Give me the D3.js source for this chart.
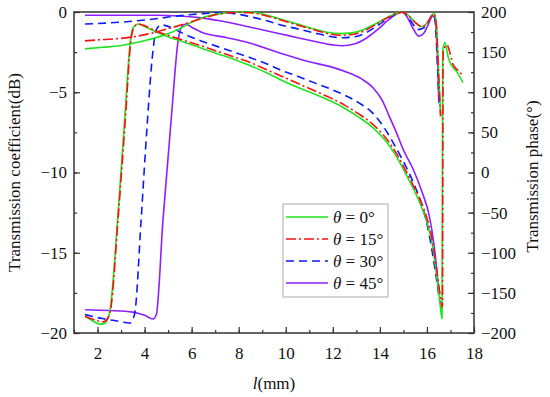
<!DOCTYPE html>
<html>
<head>
<meta charset="utf-8">
<script src="https://cdn.jsdelivr.net/npm/d3@7"></script>
<style>
body { margin: 0; background: #fff; }
text { font-family: "Liberation Serif", "Times New Roman", serif; }
</style>
</head>
<body>
<div id="chart"></div>
<script>
// magnitude curves (dB, left axis)
let mag0 = [[1.47,-2.3],[2.2,-2.2],[2.95,-2.1],[3.5,-1.95],[4.1,-1.75],[4.6,-1.55],[5.1,-1.3],[5.6,-0.95],[6.2,-0.5],[6.7,-0.25],[7.2,-0.1],[7.8,-0.02],[8.5,0],[9.2,-0.2],[9.9,-0.5],[10.6,-0.8],[11.3,-1.1],[11.8,-1.28],[12.3,-1.35],[12.8,-1.3],[13.3,-1.1],[13.8,-0.75],[14.3,-0.35],[14.7,-0.08],[14.95,0],[15.2,-0.2],[15.5,-0.65],[15.8,-0.9],[16.0,-0.7],[16.2,-0.25],[16.3,-0.1],[16.4,-0.8],[16.5,-4],[16.58,-6.5]];
let mag15 = [[1.47,-1.8],[2.2,-1.72],[2.95,-1.65],[3.7,-1.5],[4.36,-1.3],[5.1,-1.0],[5.8,-0.7],[6.5,-0.38],[7.2,-0.12],[7.8,-0.03],[8.5,-0.05],[9.2,-0.25],[9.9,-0.55],[10.6,-0.85],[11.3,-1.15],[11.8,-1.35],[12.3,-1.45],[12.8,-1.4],[13.3,-1.2],[13.8,-0.8],[14.3,-0.38],[14.7,-0.1],[14.95,-0.02],[15.2,-0.2],[15.5,-0.65],[15.8,-0.92],[16.0,-0.7],[16.2,-0.25],[16.3,-0.1],[16.4,-0.8],[16.5,-4],[16.58,-6.5]];
let mag30 = [[1.47,-0.75],[2.5,-0.68],[3.68,-0.55],[4.5,-0.42],[5.2,-0.28],[5.8,-0.19],[6.5,-0.1],[7.2,-0.05],[7.8,-0.1],[8.5,-0.3],[9.2,-0.55],[9.75,-0.8],[10.5,-1.05],[11.2,-1.3],[11.8,-1.5],[12.4,-1.6],[12.9,-1.55],[13.4,-1.3],[13.9,-0.85],[14.4,-0.35],[14.8,-0.05],[14.95,0],[15.2,-0.3],[15.4,-0.75],[15.6,-1.1],[15.85,-1.0],[16.05,-0.6],[16.26,-0.15],[16.35,-0.6],[16.45,-3.5],[16.52,-5.9]];
let mag45 = [[1.47,-0.2],[3,-0.2],[4.5,-0.2],[5.5,-0.25],[6.3,-0.35],[7.2,-0.55],[8.5,-0.95],[9.75,-1.35],[10.5,-1.6],[11.3,-1.85],[12,-2.05],[12.4,-2.1],[12.9,-2.0],[13.4,-1.65],[13.9,-1.1],[14.4,-0.45],[14.75,-0.1],[14.95,-0.02],[15.15,-0.3],[15.4,-1.0],[15.65,-1.5],[15.85,-1.35],[16.05,-0.8],[16.25,-0.25],[16.35,-0.4],[16.45,-3],[16.5,-5.3]];

// phase curves (deg, right axis)
let ph0 = [[1.47,-179],[1.8,-185],[2.1,-189],[2.3,-188],[2.42,-183],[2.53,-172],[2.85,-60],[3.15,65],[3.4,165],[3.52,181],[3.72,185],[4.0,182],[4.5,175],[5.1,168],[5.63,163],[6.5,154],[7.1,148],[7.9,140],[8.5,133],[9.2,124],[9.75,116],[10.6,105],[11.3,97],[11.9,89],[12.5,80],[13.1,69],[13.7,56],[14.2,41],[14.7,20],[15.0,4],[15.4,-19],[15.7,-38],[16.0,-62],[16.2,-85],[16.4,-125],[16.55,-162],[16.64,-182],[16.67,150],[16.76,162],[16.83,155],[16.9,144],[16.98,137],[17.28,125],[17.53,112]];
let ph15 = [[1.47,-179],[1.8,-183],[2.25,-186],[2.45,-181],[2.56,-170],[2.88,-55],[3.18,65],[3.42,165],[3.55,181],[3.72,185],[4.0,183],[4.5,176],[5.1,170],[5.63,165],[6.5,157],[7.1,151],[7.9,143],[8.5,137],[9.2,128],[9.75,121],[10.6,110],[11.3,101],[11.9,93],[12.5,84],[13.1,73],[13.7,60],[14.2,45],[14.7,24],[15.0,8],[15.4,-15],[15.7,-33],[16.0,-57],[16.2,-80],[16.4,-118],[16.55,-150],[16.66,-168],[16.69,150],[16.85,159],[16.98,149],[17.1,135],[17.33,127],[17.53,121]];
let ph30 = [[1.47,-177],[2.2,-182],[2.83,-185],[3.38,-187.5],[3.52,-182],[3.6,-172],[3.85,-60],[4.1,55],[4.35,150],[4.5,178],[4.7,184],[4.9,183],[5.3,178],[5.8,171],[6.4,164],[7.2,156],[7.9,149],[8.5,143],[9.3,134],[9.75,128],[10.5,120],[11.2,112],[11.9,104],[12.6,95],[13.2,85],[13.7,74],[14.2,55],[14.7,30],[15.15,5],[15.5,-18],[15.8,-42],[16.1,-78],[16.35,-122],[16.55,-162]];
let ph45 = [[1.47,-171],[2.5,-172],[3.5,-174],[4.0,-178],[4.36,-182.5],[4.5,-177],[4.78,-60],[5.16,77],[5.42,163],[5.58,182],[5.75,185],[6.0,181],[6.4,175],[7.5,168],[8.5,161],[9.75,149],[11,138],[12,131],[12.6,125],[13.2,117],[13.7,106],[14.1,90],[14.4,70],[14.7,50],[15.0,28],[15.4,5],[15.8,-25],[16.1,-54],[16.3,-90],[16.4,-116],[16.5,-150]];

let legendLabels = ["0", "15", "30", "45"];
let xTicks = [2,4,6,8,10,12,14,16,18];
let dbTicks = [0,-5,-10,-15,-20];
let phTicks = [200,150,100,50,0,-50,-100,-150,-200];

let w = 550, h = 397;
let mLeft = 74, mRight = 474, mTop = 12, mBottom = 333;

let svg = d3.select("#chart").append("svg")
  .attr("width", w)
  .attr("height", h);

let xScale = d3.scaleLinear().domain([1, 18]).range([mLeft, mRight]);
let yDb = d3.scaleLinear().domain([-20, 0]).range([mBottom, mTop]);
let yPh = d3.scaleLinear().domain([-200, 200]).range([mBottom, mTop]);

let axisColor = "#333";

// minor ticks
svg.append("g")
  .attr("transform", "translate(0," + mBottom + ")")
  .call(d3.axisBottom(xScale).tickValues(d3.range(1, 19, 1)).tickFormat("").tickSizeInner(-3).tickSizeOuter(0));
svg.append("g")
  .attr("transform", "translate(" + mLeft + ",0)")
  .call(d3.axisLeft(yDb).tickValues(d3.range(-20, 0.1, 2.5)).tickFormat("").tickSizeInner(-3).tickSizeOuter(0));
svg.append("g")
  .attr("transform", "translate(" + mRight + ",0)")
  .call(d3.axisRight(yPh).tickValues(d3.range(-200, 201, 25)).tickFormat("").tickSizeInner(-3).tickSizeOuter(0));

// major ticks
let xAxis = d3.axisBottom(xScale).tickValues(xTicks).tickSizeInner(-6).tickSizeOuter(0).tickPadding(14);
let yAxisL = d3.axisLeft(yDb).tickValues(dbTicks).tickSizeInner(-6).tickSizeOuter(0).tickPadding(7)
  .tickFormat(d => d < 0 ? "\u2212" + (-d) : d);
let yAxisR = d3.axisRight(yPh).tickValues(phTicks).tickSizeInner(-6).tickSizeOuter(0).tickPadding(7)
  .tickFormat(d => d < 0 ? "\u2212" + (-d) : d);

svg.append("g").attr("class", "axis")
  .attr("transform", "translate(0," + mBottom + ")")
  .call(xAxis);
svg.append("g").attr("class", "axis")
  .attr("transform", "translate(" + mLeft + ",0)")
  .call(yAxisL);
svg.append("g").attr("class", "axis")
  .attr("transform", "translate(" + mRight + ",0)")
  .call(yAxisR);

svg.selectAll("g .domain").remove();
svg.selectAll("g .tick line").attr("stroke", axisColor).attr("stroke-width", 1.2);
svg.selectAll("g.axis text")
  .attr("font-family", "'Liberation Serif', serif")
  .attr("font-size", 17)
  .attr("fill", "#111");

// frame
svg.append("rect")
  .attr("x", mLeft).attr("y", mTop)
  .attr("width", mRight - mLeft).attr("height", mBottom - mTop)
  .attr("fill", "none")
  .attr("stroke", axisColor)
  .attr("stroke-width", 1.5);

// curves
let series = [
  { mag: mag45, ph: ph45, color: "#8f1fff", dash: null },
  { mag: mag30, ph: ph30, color: "#0a1aff", dash: "8,5" },
  { mag: mag0, ph: ph0, color: "#1ee61e", dash: null },
  { mag: mag15, ph: ph15, color: "#ff1010", dash: "10,3,2,3" }
];

let lineDb = d3.line().x(d => xScale(d[0])).y(d => yDb(d[1])).curve(d3.curveMonotoneX);
let linePh = d3.line().x(d => xScale(d[0])).y(d => yPh(d[1])).curve(d3.curveMonotoneX);

series.forEach(s => {
  svg.append("path")
    .attr("d", lineDb(s.mag))
    .attr("fill", "none")
    .attr("stroke", s.color)
    .attr("stroke-width", 1.6)
    .attr("stroke-dasharray", s.dash);
  svg.append("path")
    .attr("d", linePh(s.ph))
    .attr("fill", "none")
    .attr("stroke", s.color)
    .attr("stroke-width", 1.6)
    .attr("stroke-dasharray", s.dash);
});

// legend
let legendOrder = [
  { label: legendLabels[0], color: "#1ee61e", dash: null },
  { label: legendLabels[1], color: "#ff1010", dash: "10,3,2,3" },
  { label: legendLabels[2], color: "#0a1aff", dash: "8,5" },
  { label: legendLabels[3], color: "#8f1fff", dash: null }
];

let lg = svg.append("g").attr("transform", "translate(283,204)");
lg.append("rect")
  .attr("width", 105).attr("height", 93)
  .attr("fill", "#fff")
  .attr("stroke", "#aaa")
  .attr("stroke-width", 1);

legendOrder.forEach((d, i) => {
  let yy = 13 + i * 22;
  lg.append("line")
    .attr("x1", 3).attr("x2", 45)
    .attr("y1", yy).attr("y2", yy)
    .attr("stroke", d.color)
    .attr("stroke-width", 1.6)
    .attr("stroke-dasharray", d.dash);
  let t = lg.append("text")
    .attr("x", 50).attr("y", yy + 6)
    .attr("font-size", 17)
    .attr("fill", "#111");
  t.append("tspan").attr("font-style", "italic").text("\u03b8");
  t.append("tspan").text(" = " + d.label + "\u00b0");
});

// axis titles
svg.append("text")
  .attr("transform", "translate(20," + ((mTop + mBottom) / 2) + ") rotate(-90)")
  .attr("text-anchor", "middle")
  .attr("font-size", 17)
  .attr("fill", "#111")
  .text("Transmission coefficient(dB)");

svg.append("text")
  .attr("transform", "translate(538," + ((mTop + mBottom) / 2 + 4) + ") rotate(-90)")
  .attr("text-anchor", "middle")
  .attr("font-size", 17)
  .attr("fill", "#111")
  .text("Transmission phase(\u00b0)");

let xt = svg.append("text")
  .attr("x", (mLeft + mRight) / 2)
  .attr("y", 389)
  .attr("text-anchor", "middle")
  .attr("font-size", 17)
  .attr("fill", "#111");
xt.append("tspan").attr("font-style", "italic").text("l");
xt.append("tspan").text("(mm)");
</script>
</body>
</html>
